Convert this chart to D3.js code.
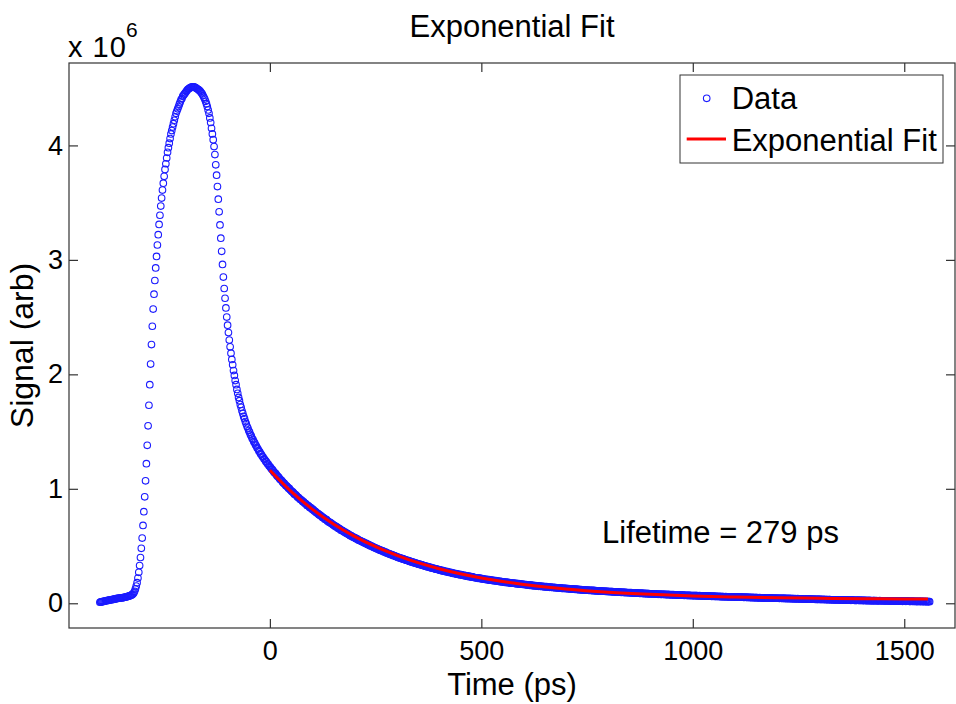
<!DOCTYPE html>
<html>
<head>
<meta charset="utf-8">
<script src="https://cdn.jsdelivr.net/npm/d3@7"></script>
<style>
  body { margin: 0; background: #fff; }
  svg text { font-family: "Liberation Sans", Arial, Helvetica, sans-serif; fill: #000; }
</style>
</head>
<body>
<div id="chart"></div>
<script>
// trace is sampled every 2 ps, values below are in 1e3 counts
const sampleStep = 2;

const baseStart = -402;
const baseSignal = [9, 12, 12, 15, 16, 17, 20, 21, 22, 25, 25, 28, 28, 31, 31, 34, 34, 37, 37, 40,
  41, 43, 43, 46, 45, 48, 47, 50, 50, 52, 54, 54, 58, 59, 62, 64, 68, 71, 75];

const riseStart = -324;
const riseSignal = [80, 90, 105, 125, 150, 180, 220, 270, 330, 400,
  480, 570, 680, 800, 930, 1070, 1220, 1380, 1550, 1730,
  1910, 2090, 2260, 2420, 2570, 2700, 2820, 2930, 3030, 3130,
  3220, 3310, 3390, 3470, 3540, 3610, 3670, 3730, 3790, 3840,
  3890, 3940, 3980, 4020, 4060, 4100, 4130, 4160, 4190, 4220,
  4250, 4280, 4300, 4320, 4340, 4360, 4380, 4400, 4410, 4430,
  4440, 4450, 4460, 4470, 4480, 4490, 4495, 4500, 4505, 4510,
  4510, 4512];

const fallStart = -180;
const fallSignal = [4512, 4510, 4505, 4500, 4495, 4490, 4485, 4478, 4470, 4460,
  4450, 4435, 4420, 4405, 4385, 4365, 4340, 4310, 4280, 4240,
  4200, 4150, 4100, 4050, 3990, 3920, 3830, 3740, 3640, 3530,
  3420, 3305, 3190, 3075, 2960, 2850, 2750, 2665, 2580, 2500,
  2430, 2365, 2300, 2240];

const decayStart = -92;
const decaySignal = [2185, 2130, 2084, 2033, 1991, 1946, 1910, 1868, 1835, 1798,
  1770, 1736, 1712, 1681, 1659, 1632, 1613, 1587, 1569, 1546,
  1531, 1509, 1495, 1474, 1462, 1442, 1431, 1412, 1402, 1384,
  1374, 1357, 1348, 1331, 1323, 1307, 1299, 1284, 1277, 1262,
  1255, 1241, 1235, 1221, 1215, 1201, 1194];

const tailStart = 2;
const tailSignal = [
  1185, 1173, 1167, 1156, 1144, 1139, 1132, 1119, 1110, 1105, 1095, 1083, 1079, 1072, 1060, 1051, 1047, 1037, 1027, 1024, 1016, 1005, 1003, 991, 985,
  976, 973, 964, 953, 950, 945, 934, 927, 924, 915, 906, 904, 897, 887, 886, 876, 871, 866, 855, 853, 848, 838, 835, 831, 821,
  820, 810, 805, 801, 790, 788, 784, 774, 772, 764, 762, 752, 748, 745, 735, 733, 730, 719, 716, 708, 708, 702, 694, 692, 683,
  681, 674, 673, 665, 664, 654, 652, 649, 639, 638, 635, 627, 622, 621, 615, 609, 609, 601, 598, 591, 591, 585, 578, 579, 572,
  571, 563, 562, 559, 550, 550, 546, 544, 537, 536, 533, 526, 524, 523, 516, 511, 512, 507, 501, 500, 498, 491, 488, 487, 480,
  480, 474, 474, 469, 464, 465, 459, 457, 455, 448, 447, 446, 440, 436, 437, 431, 430, 425, 426, 421, 416, 417, 412, 408, 408,
  402, 401, 396, 397, 393, 388, 390, 385, 382, 382, 376, 376, 373, 372, 366, 367, 363, 359, 360, 355, 355, 350, 351, 345, 345,
  341, 342, 337, 335, 335, 329, 329, 328, 323, 324, 319, 317, 318, 312, 313, 310, 306, 308, 303, 303, 298, 299, 298, 292, 292,
  291, 287, 288, 283, 285, 280, 279, 276, 277, 276, 270, 271, 270, 266, 267, 262, 263, 260, 257, 259, 255, 255, 251, 252, 249,
  250, 246, 245, 242, 243, 242, 238, 239, 235, 237, 232, 232, 232, 228, 230, 225, 225, 222, 223, 222, 218, 219, 219, 215, 215,
  215, 212, 212, 210, 207, 209, 207, 205, 206, 202, 202, 202, 198, 200, 198, 196, 198, 194, 194, 194, 190, 192, 190, 189, 186,
  187, 185, 182, 184, 182, 180, 182, 179, 179, 179, 175, 176, 176, 174, 172, 174, 171, 169, 171, 169, 167, 168, 166, 165, 166,
  164, 162, 164, 160, 160, 160, 157, 158, 158, 154, 156, 154, 153, 154, 151, 151, 152, 148, 150, 148, 147, 148, 146, 145, 146,
  143, 145, 142, 142, 142, 139, 141, 139, 138, 139, 137, 136, 137, 135, 135, 135, 133, 133, 134, 131, 131, 130, 131, 129, 130,
  128, 127, 128, 126, 125, 126, 125, 123, 124, 123, 121, 123, 121, 120, 121, 119, 118, 119, 117, 117, 118, 115, 116, 116, 114,
  115, 113, 113, 114, 111, 112, 112, 110, 110, 111, 108, 109, 109, 107, 108, 107, 106, 107, 105, 105, 106, 103, 104, 104, 102,
  103, 103, 101, 101, 102, 99, 100, 100, 98, 99, 99, 97, 97, 98, 96, 96, 97, 94, 95, 96, 93, 94, 94, 92, 93,
  92, 93, 90, 91, 92, 89, 90, 90, 88, 89, 89, 87, 87, 88, 86, 86, 87, 84, 85, 86, 83, 84, 84, 82, 83,
  83, 83, 81, 81, 82, 80, 80, 81, 78, 79, 80, 77, 78, 79, 77, 77, 78, 76, 76, 77, 75, 75, 76, 74, 75,
  74, 75, 73, 73, 74, 72, 72, 73, 71, 72, 72, 70, 71, 71, 69, 70, 70, 68, 69, 69, 69, 67, 68, 67, 67,
  67, 66, 66, 67, 66, 65, 65, 66, 65, 64, 64, 65, 64, 63, 63, 64, 63, 62, 62, 63, 62, 61, 61, 62, 61,
  60, 61, 60, 59, 59, 60, 59, 58, 58, 59, 58, 57, 57, 58, 57, 56, 56, 57, 56, 55, 56, 55, 55, 56, 55,
  55, 54, 54, 55, 54, 53, 53, 54, 53, 52, 52, 53, 52, 51, 51, 52, 51, 50, 50, 51, 50, 49, 50, 49, 49,
  49, 48, 48, 49, 48, 47, 48, 47, 47, 46, 47, 46, 46, 47, 46, 45, 45, 46, 45, 44, 45, 44, 44, 45, 44,
  44, 43, 43, 44, 43, 42, 43, 42, 42, 41, 42, 41, 41, 42, 41, 40, 40, 41, 40, 39, 40, 39, 39, 40, 39,
  39, 38, 38, 39, 38, 37, 37, 38, 37, 36, 37, 36, 36, 37, 36, 35, 35, 36, 35, 34, 35, 34, 34, 35, 34,
  34, 33, 33, 34, 33, 32, 33, 32, 32, 31, 32, 32, 31, 30, 31, 31, 30, 29, 30, 31, 30, 29, 30, 29, 29,
  29, 28, 29, 28, 28, 27, 28, 28, 28, 27, 27, 26, 27, 28, 27, 26, 26, 25, 26, 27, 26, 25, 25, 26, 25,
  25, 24, 25, 26, 24, 23, 24, 25, 24, 23, 23, 22, 23, 24, 23, 22, 23, 22, 21, 22, 23, 22, 21, 22, 22,
  21, 20, 21, 22, 21, 20, 21, 20, 19, 20, 21, 20, 19, 20, 19, 18, 19, 20, 19, 18, 19, 18, 17, 18, 18,
  18, 17, 18, 19, 18, 17, 16, 17, 18, 17, 16, 17, 17, 16, 15, 16, 17, 16, 15, 16, 16, 15, 15, 16, 15,
  15, 14, 15, 15, 14];

// fitted curve (ps, 1e3 counts)
const fitTime = [0, 50, 100, 150, 200, 250, 300, 350, 400, 450, 500, 550, 600, 700, 800, 900, 1000, 1100, 1200, 1300, 1400, 1500, 1556];
const fitSignal = [1163, 978, 823, 693, 585, 494, 419, 355, 302, 258, 221, 190, 165, 125, 97, 78, 64, 55, 48, 44, 40, 38, 37];
const lifetime = 279;

const xTicks = [0, 500, 1000, 1500];
const yTicks = [0, 1, 2, 3, 4];
const xDomain = [-475, 1620];
const yDomain = [-0.216, 4.72];

const width = 956, height = 704;
const margin = { top: 63, right: 1, bottom: 76, left: 69 };
const tick = 9;
const axisColor = '#333';

const svg = d3.select('#chart').append('svg')
  .attr('width', width)
  .attr('height', height);

const x = d3.scaleLinear().domain(xDomain).range([margin.left, width - margin.right]);
const y = d3.scaleLinear().domain(yDomain).range([height - margin.bottom, margin.top]);

const segments = [
  [baseStart, baseSignal],
  [riseStart, riseSignal],
  [fallStart, fallSignal],
  [decayStart, decaySignal],
  [tailStart, tailSignal]
];
const points = segments.flatMap(([t0, vals]) => vals.map((v, i) => ({ t: t0 + i * sampleStep, v: v / 1000 })));
const fit = fitTime.map((t, i) => ({ t: t, v: fitSignal[i] / 1000 }));

// axes, MATLAB style: ticks point inward on all four sides
const x0 = x.range()[0], x1 = x.range()[1], y0 = y.range()[0], y1 = y.range()[1];

const styleAxis = g => {
  g.attr('color', axisColor);
  g.select('.domain').remove();
  g.selectAll('.tick line').attr('stroke-width', 1.2);
  g.selectAll('text').attr('font-size', 27);
};

svg.append('g').attr('transform', `translate(0,${y0})`)
  .call(d3.axisBottom(x).tickValues(xTicks).tickSize(-tick).tickPadding(13).tickFormat(d3.format('d')))
  .call(styleAxis);
svg.append('g').attr('transform', `translate(0,${y1})`)
  .call(d3.axisTop(x).tickValues(xTicks).tickSize(-tick).tickFormat(''))
  .call(styleAxis);
svg.append('g').attr('transform', `translate(${x0},0)`)
  .call(d3.axisLeft(y).tickValues(yTicks).tickSize(-tick).tickPadding(6).tickFormat(d3.format('d')))
  .call(styleAxis);
svg.append('g').attr('transform', `translate(${x1},0)`)
  .call(d3.axisRight(y).tickValues(yTicks).tickSize(-tick).tickFormat(''))
  .call(styleAxis);

svg.append('rect')
  .attr('x', x0).attr('y', y1)
  .attr('width', x1 - x0).attr('height', y0 - y1)
  .attr('fill', 'none')
  .attr('stroke', axisColor)
  .attr('stroke-width', 1.2);

// data markers
svg.append('g').attr('class', 'data')
  .selectAll('circle')
  .data(points)
  .enter().append('circle')
  .attr('cx', d => x(d.t))
  .attr('cy', d => y(d.v))
  .attr('r', 3.3)
  .attr('fill', 'none')
  .attr('stroke', '#1a1aff')
  .attr('stroke-width', 1.1);

// exponential fit
const line = d3.line().x(d => x(d.t)).y(d => y(d.v)).curve(d3.curveMonotoneX);
svg.append('path')
  .datum(fit)
  .attr('d', line)
  .attr('fill', 'none')
  .attr('stroke', '#ff0000')
  .attr('stroke-width', 3);

// texts
svg.append('text')
  .attr('x', (x0 + x1) / 2).attr('y', 37)
  .attr('text-anchor', 'middle')
  .attr('font-size', 31)
  .text('Exponential Fit');

svg.append('text')
  .attr('x', x0 - 1).attr('y', 57)
  .attr('font-size', 29)
  .attr('letter-spacing', 1)
  .text('x 10');
svg.append('text')
  .attr('x', 126).attr('y', 37)
  .attr('font-size', 21)
  .text('6');

svg.append('text')
  .attr('x', (x0 + x1) / 2).attr('y', 695)
  .attr('text-anchor', 'middle')
  .attr('font-size', 31)
  .text('Time (ps)');

svg.append('text')
  .attr('transform', `translate(33,${(y0 + y1) / 2}) rotate(-90)`)
  .attr('text-anchor', 'middle')
  .attr('font-size', 32)
  .text('Signal (arb)');

svg.append('text')
  .attr('x', 602).attr('y', 543)
  .attr('font-size', 31)
  .text(`Lifetime = ${lifetime} ps`);

// legend
const legend = svg.append('g').attr('transform', 'translate(680,75)');
legend.append('rect')
  .attr('width', 263).attr('height', 88)
  .attr('fill', '#fff')
  .attr('stroke', axisColor)
  .attr('stroke-width', 1);
legend.append('circle')
  .attr('cx', 26.7).attr('cy', 23.3).attr('r', 3.3)
  .attr('fill', 'none').attr('stroke', '#1a1aff').attr('stroke-width', 1.1);
legend.append('text')
  .attr('x', 51.7).attr('y', 34)
  .attr('font-size', 31)
  .text('Data');
legend.append('line')
  .attr('x1', 6.7).attr('x2', 46).attr('y1', 64).attr('y2', 64)
  .attr('stroke', '#ff0000').attr('stroke-width', 3);
legend.append('text')
  .attr('x', 51.7).attr('y', 75.5)
  .attr('font-size', 31)
  .text('Exponential Fit');
</script>
</body>
</html>
